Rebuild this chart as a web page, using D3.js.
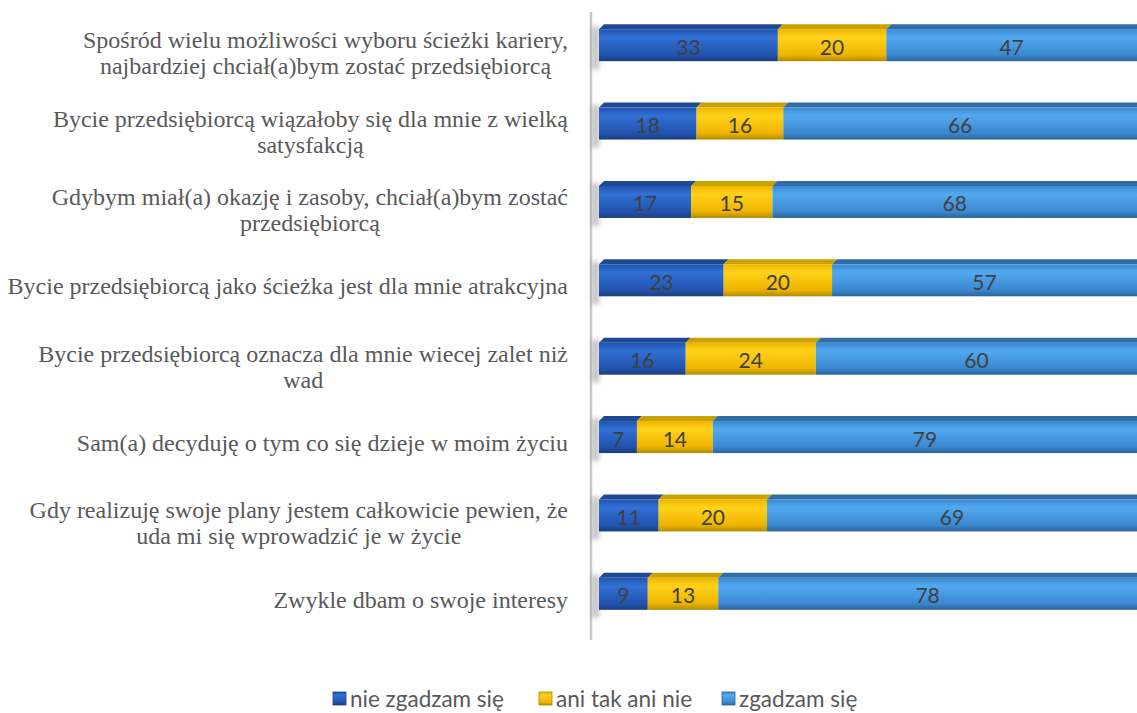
<!DOCTYPE html>
<html>
<head>
<meta charset="utf-8">
<script src="https://d3js.org/d3.v7.min.js"></script>
<style>
body { margin: 0; background: #fff; }
svg { display: block; }
</style>
</head>
<body>
<div id="root"></div>
<script>
let categories = [
    'Spośród wielu możliwości wyboru ścieżki kariery,|najbardziej chciał(a)bym zostać przedsiębiorcą',
    'Bycie przedsiębiorcą wiązałoby się dla mnie z wielką|satysfakcją',
    'Gdybym miał(a) okazję i zasoby, chciał(a)bym zostać|przedsiębiorcą',
    'Bycie przedsiębiorcą jako ścieżka jest dla mnie atrakcyjna',
    'Bycie przedsiębiorcą oznacza dla mnie wiecej zalet niż|wad',
    'Sam(a) decyduję o tym co się dzieje w moim życiu',
    'Gdy realizuję swoje plany jestem całkowicie pewien, że|uda mi się wprowadzić je w życie',
    'Zwykle dbam o swoje interesy'
];
let series_names = ['nie zgadzam się', 'ani tak ani nie', 'zgadzam się'];
let disagree = [33, 18, 17, 23, 16, 7, 11, 9];
let neutral = [20, 16, 15, 20, 24, 14, 20, 13];
let agree = [47, 66, 68, 57, 60, 79, 69, 78];

let width = 1137;
let height = 713;

let palette = [
    { top: '#1d4894', hi: '#3170d6', lo: '#2253ad', edge: '#1a3f80' },
    { top: '#c9a200', hi: '#ffd21a', lo: '#efb400', edge: '#b08c00' },
    { top: '#2f6da6', hi: '#52a9f0', lo: '#3a88d0', edge: '#2b6498' }
];

let scale_x = d3.scaleLinear().domain([0, 100]).range([599, 1141]);
let scale_y = d3.scaleBand().domain(d3.range(categories.length)).range([6, 633]);
let bar_h = 32;
let depth = 5;

let svg = d3.select('#root').append('svg')
    .attr('width', width)
    .attr('height', height);

let defs = svg.append('defs');
palette.forEach((c, i) => {
    let g = defs.append('linearGradient')
        .attr('id', `grad-${i}`)
        .attr('x1', 0).attr('y1', 0).attr('x2', 0).attr('y2', 1);
    g.append('stop').attr('offset', '0%').attr('stop-color', c.lo);
    g.append('stop').attr('offset', '25%').attr('stop-color', c.hi);
    g.append('stop').attr('offset', '80%').attr('stop-color', c.lo);
    g.append('stop').attr('offset', '100%').attr('stop-color', c.edge);
});
defs.append('filter').attr('id', 'blur')
    .attr('x', '-100%').attr('y', '-50%').attr('width', '300%').attr('height', '200%')
    .append('feGaussianBlur').attr('stdDeviation', 2.5);

// axis line
svg.append('line')
    .attr('x1', 591).attr('x2', 591)
    .attr('y1', 12).attr('y2', 640)
    .attr('stroke', '#c8c8c8')
    .attr('stroke-width', 2.5);

let stack = d3.stack().keys([0, 1, 2])
    .value((d, k) => d[k]);
let rows = categories.map((c, i) => [disagree[i], neutral[i], agree[i]]);
let layers = stack(rows);

let cy = i => scale_y(i) + scale_y.bandwidth() / 2;

// shadows at left end of bars
svg.append('g').selectAll('rect')
    .data(categories)
    .join('rect')
    .attr('x', 592)
    .attr('y', (d, i) => cy(i) - bar_h / 2 - depth + 2)
    .attr('width', 7)
    .attr('height', bar_h + depth + 6)
    .attr('fill', '#8a8a8a')
    .attr('opacity', 0.55)
    .attr('filter', 'url(#blur)');

let bars = svg.append('g');
layers.forEach((layer, k) => {
    let c = palette[k];
    let g = bars.append('g');
    g.selectAll('path.top')
        .data(layer)
        .join('path')
        .attr('class', 'top')
        .attr('fill', c.top)
        .attr('d', (d, i) => {
            let x0 = scale_x(d[0]), x1 = scale_x(d[1]);
            let y = cy(i) - bar_h / 2;
            return `M${x0},${y} L${x0 + depth},${y - depth} L${x1 + depth},${y - depth} L${x1},${y} Z`;
        });
    g.selectAll('rect.front')
        .data(layer)
        .join('rect')
        .attr('class', 'front')
        .attr('x', d => scale_x(d[0]))
        .attr('y', (d, i) => cy(i) - bar_h / 2)
        .attr('width', d => scale_x(d[1]) - scale_x(d[0]))
        .attr('height', bar_h)
        .attr('fill', `url(#grad-${k})`);
    g.selectAll('text')
        .data(layer)
        .join('text')
        .attr('x', d => (scale_x(d[0]) + Math.min(scale_x(d[1]), 1137)) / 2)
        .attr('y', (d, i) => cy(i) + 1)
        .attr('text-anchor', 'middle')
        .attr('dominant-baseline', 'central')
        .attr('font-family', 'Lato, "Open Sans", sans-serif')
        .attr('font-size', 21)
        .attr('fill', '#404040')
        .text(d => d[1] - d[0]);
});

// category labels
let label_right = 568;
let line_h = 26;
let labels = svg.append('g')
    .attr('font-family', '"Liberation Serif", "Times New Roman", serif')
    .attr('font-size', 24)
    .attr('fill', '#595959');
categories.forEach((c, i) => {
    let lines = c.split('|');
    let t = labels.append('text')
        .attr('text-anchor', 'middle');
    let y0 = cy(i) + (lines.length > 1 ? 8 : 6) - (lines.length - 1) * line_h / 2;
    lines.forEach((l, j) => {
        t.append('tspan')
            .attr('y', y0 + j * line_h)
            .attr('dominant-baseline', 'central')
            .text(l);
    });
    let w = d3.max(t.selectAll('tspan').nodes(), n => n.getComputedTextLength());
    t.selectAll('tspan').attr('x', label_right - w / 2);
});

// legend
let legend_x = [333, 539, 722];
let legend = svg.append('g')
    .attr('font-family', 'Lato, "Open Sans", sans-serif')
    .attr('font-size', 22.5)
    .attr('fill', '#595959');
series_names.forEach((s, k) => {
    legend.append('rect')
        .attr('x', legend_x[k])
        .attr('y', 692)
        .attr('width', 13)
        .attr('height', 13)
        .attr('fill', `url(#grad-${k})`)
        .attr('stroke', palette[k].edge)
        .attr('stroke-width', 0.8);
    legend.append('text')
        .attr('x', legend_x[k] + 17)
        .attr('y', 698)
        .attr('dominant-baseline', 'central')
        .text(s);
});
</script>
</body>
</html>
